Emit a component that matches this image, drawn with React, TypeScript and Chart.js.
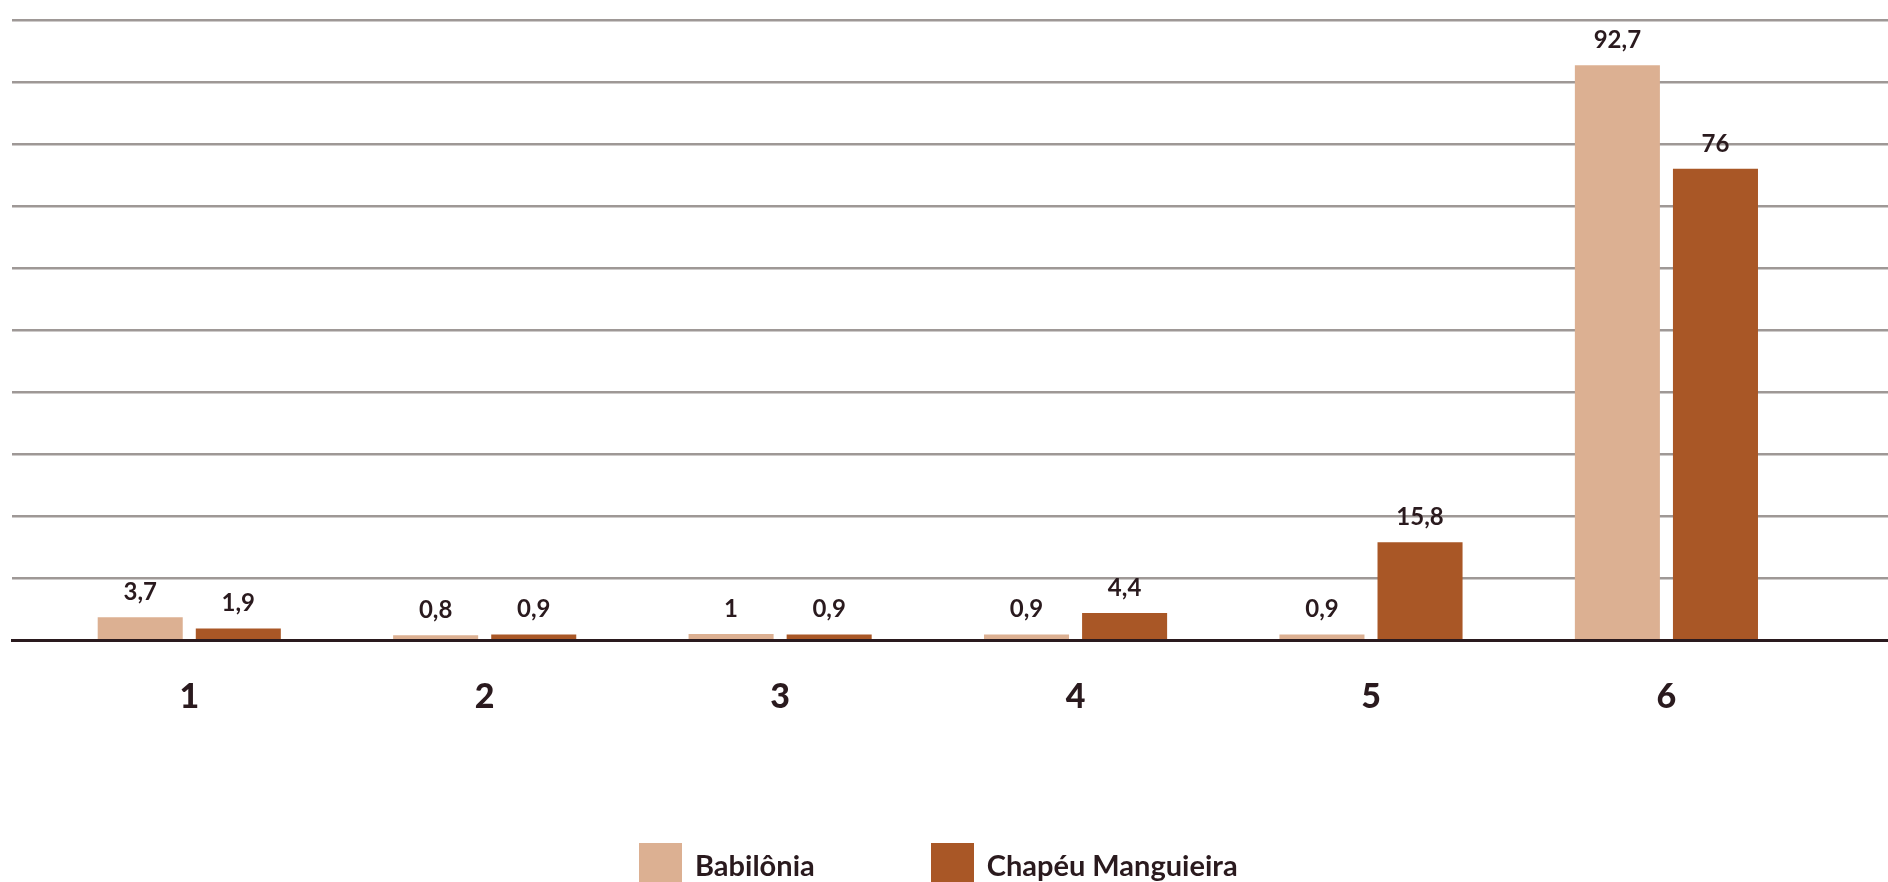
import { useEffect, useRef } from 'react';
import { Chart, registerables } from 'chart.js';

Chart.register(...registerables);

const categories = ['1', '2', '3', '4', '5', '6'];
const babilonia = [3.7, 0.8, 1, 0.9, 0.9, 92.7];
const chapeuManguieira = [1.9, 0.9, 0.9, 4.4, 15.8, 76];
const seriesNames = ['Babilônia', 'Chapéu Manguieira'];
const seriesColors = ['#dcb092', '#a95726'];

const TEXT = '#2a1a1e';
const FONT = 'Lato, "Noto Sans", sans-serif';

// rótulos com vírgula decimal em cima das barras
const valueLabels = {
  id: 'valueLabels',
  afterDatasetsDraw(chart: any) {
    const { ctx } = chart;
    ctx.save();
    ctx.fillStyle = TEXT;
    ctx.font = `bold 24px ${FONT}`;
    ctx.textAlign = 'center';
    ctx.textBaseline = 'middle';
    chart.data.datasets.forEach((ds: any, i: number) => {
      chart.getDatasetMeta(i).data.forEach((bar: any, j: number) => {
        const v = ds.data[j].y;
        ctx.fillText(String(v).replace('.', ','), bar.x, bar.y - 25);
      });
    });
    ctx.restore();
  }
};

export default function App() {
  const chartRef = useRef<HTMLCanvasElement>(null);
  const chartInstance = useRef<Chart | null>(null);

  useEffect(() => {
    if (!chartRef.current) return;
    if (chartInstance.current) chartInstance.current.destroy();

    const series = [babilonia, chapeuManguieira];

    chartInstance.current = new Chart(chartRef.current, {
      type: 'bar',
      data: {
        datasets: series.map((values, s) => ({
          label: seriesNames[s],
          data: values.map((y, i) => ({ x: i + 1, y })),
          backgroundColor: seriesColors[s],
          borderWidth: 0,
          categoryPercentage: 0.664,
          barPercentage: 0.867
        }))
      },
      options: {
        animation: false,
        responsive: true,
        maintainAspectRatio: false,
        layout: { padding: { left: 12, top: 20, right: 0, bottom: 129 } },
        plugins: {
          legend: { display: false },
          tooltip: { enabled: false }
        },
        scales: {
          x: {
            type: 'linear',
            offset: false,
            min: 0.4,
            max: 6.75,
            afterBuildTicks: (scale: any) => {
              scale.ticks = categories.map((_, i) => ({ value: i + 1 }));
            },
            grid: { display: false, drawTicks: false },
            border: { display: true, color: TEXT, width: 3 },
            ticks: {
              autoSkip: false,
              maxRotation: 0,
              padding: 36,
              color: TEXT,
              font: { family: FONT, size: 34, weight: '900' },
              callback: (value: any) => categories[Number(value) - 1] ?? ''
            }
          },
          y: {
            min: 0,
            max: 100,
            ticks: { display: false, stepSize: 10 },
            grid: { color: '#9e9896', lineWidth: 2.5, drawTicks: false },
            border: { display: false }
          }
        }
      } as any,
      plugins: [valueLabels]
    });

    return () => {
      if (chartInstance.current) {
        chartInstance.current.destroy();
        chartInstance.current = null;
      }
    };
  }, []);

  return (
    <div style={{ position: 'absolute', left: 0, top: 0, width: 1888, height: 882, background: '#fff', overflow: 'hidden' }}>
      <canvas ref={chartRef} />
      <div
        style={{
          position: 'absolute',
          left: 639,
          top: 843,
          display: 'flex',
          gap: 116,
          fontFamily: FONT,
          fontWeight: 'bold',
          fontSize: 29,
          color: TEXT
        }}
      >
        {seriesNames.map((name, s) => (
          <div key={name} style={{ display: 'flex', alignItems: 'center', gap: 13 }}>
            <span style={{ width: 43, height: 42, background: seriesColors[s], display: 'inline-block' }} />
            <span>{name}</span>
          </div>
        ))}
      </div>
    </div>
  );
}
